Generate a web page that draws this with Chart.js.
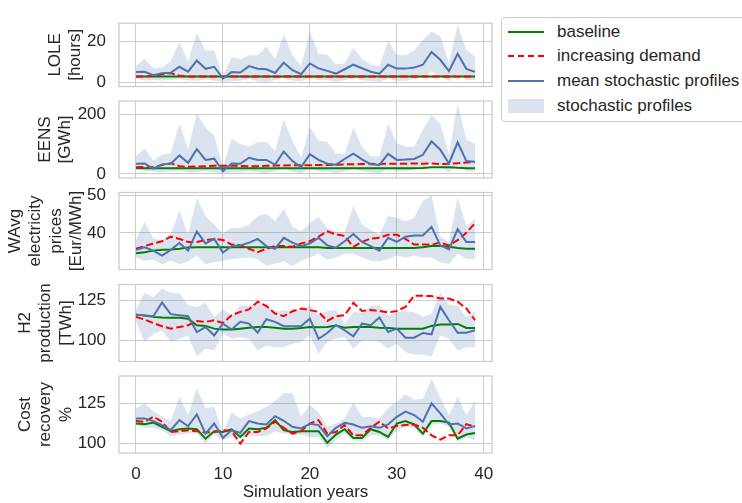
<!DOCTYPE html>
<html>
<head>
<meta charset="utf-8">
<script src="https://cdn.jsdelivr.net/npm/chart.js@4.4.1/dist/chart.umd.min.js"></script>
<style>
body { margin: 0; background: #fff; overflow: hidden; }
#wrap { position: relative; width: 742px; height: 503px; overflow: hidden; font-family: 'Liberation Sans', Arial, sans-serif; }
#wrap canvas { position: absolute; left: 0; top: 0; }
#legend { position: absolute; left: 501px; top: 17px; width: 320px; height: 103px; border: 1px solid #cccccc; border-radius: 4px; background: #fff; color: #262626; font-size: 17px; }
.item { position: absolute; left: 0; width: 300px; height: 24px; }
.item span.txt { position: absolute; left: 55px; top: 2px; white-space: nowrap; }
.handle { position: absolute; left: 6px; width: 36px; }
</style>
</head>
<body>
<div id="wrap">
  <canvas id="c1" width="742" height="503"></canvas>
  <canvas id="c2" width="742" height="503"></canvas>
  <canvas id="c3" width="742" height="503"></canvas>
  <canvas id="c4" width="742" height="503"></canvas>
  <canvas id="c5" width="742" height="503"></canvas>
  <div id="legend">
    <div class="item" style="top:2px"><div class="handle" style="top:11px;border-top:2px solid #008000"></div><span class="txt">baseline</span></div>
    <div class="item" style="top:26px"><div class="handle" style="top:11px;border-top:2px dashed #ff0000"></div><span class="txt">increasing demand</span></div>
    <div class="item" style="top:51px"><div class="handle" style="top:11px;border-top:2px solid #4c72b0"></div><span class="txt">mean stochastic profiles</span></div>
    <div class="item" style="top:76px"><div class="handle" style="top:5px;height:14px;background:rgba(76,114,176,0.2)"></div><span class="txt">stochastic profiles</span></div>
  </div>
</div>
<script>
'use strict';

let years = [0,1,2,3,4,5,6,7,8,9,10,11,12,13,14,15,16,17,18,19,20,21,22,23,24,25,26,27,28,29,30,31,32,33,34,35,36,37,38,39];
let xTicks = [0, 10, 20, 30, 40];

// LOLE [hours]
let loleBase = [3.0,3.0,3.0,3.0,3.0,3.0,3.0,3.0,3.0,3.0,3.0,3.0,3.0,3.0,3.0,3.0,3.0,3.0,3.0,3.0,3.0,3.0,3.0,3.0,3.0,3.0,3.0,3.0,3.0,3.0,3.0,3.0,3.0,3.0,3.0,3.0,3.0,3.0,3.0,3.0];
let loleDemand = [3.0,3.0,3.2,4.0,4.6,3.3,3.0,3.0,3.0,3.0,3.0,3.0,3.0,3.0,3.0,3.0,3.0,3.0,3.0,3.0,3.0,3.0,3.0,3.0,3.0,3.0,3.0,3.0,3.0,3.0,3.0,3.0,3.0,3.0,3.0,3.0,3.0,3.0,3.0,3.0];
let loleMean = [5.1,5.3,3.6,4.5,4.8,7.7,5.3,10.7,6.7,7.7,2.0,5.1,4.9,8.0,6.7,6.5,4.7,9.7,6.0,4.1,9.3,6.9,5.7,4.4,6.5,8.7,7.0,5.3,4.3,8.7,6.8,6.8,7.3,8.7,14.9,11.1,5.6,14.0,6.7,5.2];
let loleLo = [2.0,1.0,1.3,0.9,1.3,1.7,1.0,0.9,1.6,0.9,0.4,0.7,0.9,1.7,0.7,0.4,1.2,2.3,0.9,0.7,2.3,1.1,1.2,0.4,1.2,2.1,1.2,0.7,0.4,1.7,0.9,0.9,1.7,2.3,5.3,3.0,0.7,4.4,1.3,1.2];
let loleHi = [8.0,11.7,6.9,7.3,10.4,19.6,10.3,24.0,15.6,15.7,3.0,12.4,11.3,13.3,13.3,17.6,11.3,23.6,13.3,8.0,24.7,14.0,13.7,8.9,9.3,16.9,11.6,8.7,7.9,20.3,13.3,13.3,15.6,20.7,24.9,22.7,9.7,28.0,16.0,12.7];

// EENS [GWh]
let eensBase = [19,19,19,19,19,19,19,19,19,19,19,19,19,19,19,19,19,19,19,19,19,19,19,19,19,19,19,19,19,19,19,19,19,20,22,22,22,21,19,19];
let eensDemand = [22,23,22,30,36,26,24,25,26,27,27,27,27,26,26,27,28,28,29,29,29,30,30,31,32,32,33,34,33,34,34,34,35,34,35,33,34,36,38,40];
let eensMean = [34,35,18,32,34,62,37,83,47,51,9,35,34,54,47,47,31,75,43,23,66,47,34,31,50,68,49,32,30,67,47,48,50,64,109,81,35,106,43,41];
let eensLo = [18,9,9,5,9,11,5,5,11,5,2,5,5,11,5,2,9,18,7,2,16,9,9,2,9,18,9,5,2,16,9,9,16,20,38,23,5,30,9,9];
let eensHi = [60,85,45,64,69,168,83,202,155,128,25,117,100,92,106,108,77,182,111,55,157,111,108,68,66,155,91,59,59,168,103,91,91,148,197,168,66,234,115,100];

// WAvg electricity prices [Eur/MWh]
let priceBase = [34.6,34.9,35.3,35.5,35.6,35.8,36.1,36.2,36.2,36.2,36.2,36.2,36.2,36.2,36.2,36.2,36.2,36.2,36.2,36.2,36.2,36.2,36.0,36.0,36.0,36.0,36.0,36.0,36.0,36.0,36.0,36.0,36.0,36.2,36.5,36.5,36.3,36.0,35.8,35.8];
let priceDemand = [35.8,36.5,37.2,37.8,39.0,38.4,37.6,37.6,38.1,38.4,38.1,36.9,36.7,35.8,34.9,35.8,36.5,36.5,36.3,37.2,37.8,39.0,40.4,39.6,39.2,36.3,37.6,38.5,38.7,39.5,39.5,38.4,36.9,36.9,36.9,37.4,36.7,38.1,40.0,42.6];
let priceMean = [35.5,36.2,35.3,34.0,35.5,37.3,35.3,40.4,37.2,38.4,34.8,36.5,36.7,37.4,38.4,36.5,35.8,38.7,37.4,36.5,37.2,38.7,36.7,36.1,37.8,39.7,37.6,36.5,35.3,38.7,37.6,39.0,39.3,39.3,41.6,36.7,35.6,41.0,37.6,37.6];
let priceLo = [33.5,32.6,32.9,31.7,32.6,31.7,32.4,34.0,31.7,32.2,32.6,33.1,33.3,33.5,33.0,31.3,31.8,32.5,31.3,32.6,33.5,34.5,32.9,33.5,34.5,34.5,33.5,32.6,32.4,33.1,34.0,33.5,34.0,33.5,33.5,32.2,31.7,34.5,33.1,33.1];
let priceHi = [38.1,42.9,38.5,38.1,39.5,46.0,39.5,49.3,44.5,42.2,39.9,41.3,41.3,42.2,44.5,45.1,43.1,46.3,41.7,40.4,42.6,44.2,41.3,40.4,40.2,47.2,42.2,40.8,39.5,44.5,44.0,43.1,44.0,48.5,49.9,39.0,37.6,49.5,41.7,43.8];

// H2 production [TWh]
let h2Base = [116.0,115.4,114.6,114.2,114.0,114.0,113.5,109.4,109.0,107.3,106.7,106.7,107.3,107.9,108.3,108.3,107.9,107.3,107.3,107.7,108.3,108.1,108.3,109.2,107.9,108.3,108.3,108.3,107.9,107.7,107.3,107.3,107.3,107.3,109.0,109.8,109.8,110.2,107.7,107.7];
let h2Demand = [114.6,112.9,110.8,108.8,107.3,108.3,109.4,112.0,111.5,112.5,110.8,115.6,117.7,119.2,124.0,121.3,116.7,115.0,118.1,119.8,118.8,117.7,112.1,115.0,115.6,123.3,118.3,118.8,118.3,117.3,118.3,120.8,127.7,127.7,127.5,126.0,126.0,124.0,119.8,112.5];
let h2Mean = [116.0,115.4,115.0,123.5,116.3,115.6,115.0,105.2,108.3,103.1,110.4,106.7,111.5,110.4,104.8,113.1,111.5,108.8,108.8,109.0,113.5,101.0,104.6,109.4,106.3,102.5,110.4,109.4,114.2,105.2,107.3,101.7,101.7,104.6,103.8,120.8,112.5,104.8,104.8,106.3];
let h2Lo = [112.0,99.0,104.2,106.3,99.0,101.0,103.1,90.0,94.8,93.8,104.2,101.0,102.1,101.0,93.8,96.9,95.8,95.8,97.9,99.0,103.0,91.7,99.0,101.0,102.1,94.8,100.0,100.0,99.0,94.8,97.9,92.7,91.3,91.3,90.0,103.1,101.0,93.8,95.8,95.8];
let h2Hi = [119.0,129.6,126.7,132.3,129.6,129.2,121.9,120.8,123.3,114.6,119.4,115.6,121.5,121.3,122.9,122.9,117.7,118.8,118.3,118.8,122.0,115.6,118.3,118.8,110.4,117.7,117.1,121.3,121.9,115.6,117.7,118.3,117.7,114.6,116.7,129.6,121.9,121.3,114.6,118.3];

// Cost recovery %
let costBase = [112.2,111.8,112.8,110.1,107.4,108.6,109.1,108.6,102.7,107.4,106.9,108.6,103.8,109.1,108.6,109.5,114.3,108.0,106.9,107.4,107.4,107.4,100.2,105.3,108.6,103.2,103.2,108.6,106.9,103.8,112.2,113.7,111.6,105.9,113.7,113.7,112.8,102.7,105.3,106.3];
let costDemand = [113.7,113.3,116.4,113.3,106.9,107.4,108.0,107.4,106.5,106.9,108.0,107.4,99.6,106.9,106.9,109.1,113.3,109.5,105.9,107.4,112.2,114.3,105.9,106.9,111.2,104.8,104.8,109.5,113.3,109.1,110.7,111.2,111.6,109.5,104.8,102.1,104.8,104.8,111.8,110.1];
let costMean = [115.4,115.4,113.7,111.2,108.0,114.3,110.5,117.9,105.9,112.2,103.2,108.0,106.3,113.7,112.2,111.6,116.8,113.9,110.1,109.1,112.0,111.2,104.2,109.5,112.6,111.6,109.5,110.5,109.5,111.6,116.4,119.6,117.5,113.3,124.8,118.5,111.6,112.2,109.1,110.7];
let costLo = [111.2,109.5,109.5,108.0,104.4,105.3,105.9,105.9,99.6,105.3,101.7,103.8,102.7,104.8,104.4,104.4,107.4,105.9,104.8,105.3,103.8,103.8,96.8,101.7,105.9,101.7,101.0,104.8,104.8,101.7,108.0,110.1,109.1,103.8,111.2,112.2,110.1,100.6,103.8,101.7];
let costHi = [121.7,124.8,120.0,116.4,113.7,129.0,117.5,134.3,121.7,122.7,105.9,119.2,115.4,117.9,120.0,122.7,126.3,131.2,131.2,116.4,123.7,119.2,110.1,112.2,115.4,125.5,116.4,116.4,115.4,121.7,125.9,130.5,127.0,127.6,140.2,128.4,117.5,129.0,117.5,126.3];

Chart.defaults.font.family = "'Liberation Sans', Arial, sans-serif";
Chart.defaults.font.size = 17;
Chart.defaults.color = '#262626';

let gridColor = '#cccccc';

let framePlugin = {
    id: 'frame',
    beforeDatasetsDraw(chart) {
        let a = chart.chartArea;
        let ctx = chart.ctx;
        ctx.save();
        ctx.strokeStyle = gridColor;
        ctx.lineWidth = 1.25;
        ctx.strokeRect(a.left, a.top, a.right - a.left, a.bottom - a.top);
        ctx.restore();
    }
};

function pts(arr) {
    let out = [];
    for (let i = 0; i < years.length; i++) {
        out.push({ x: years[i], y: arr[i] });
    }
    return out;
}

function makePanel(p) {
    let isLast = p.last === true;
    let ctx = document.getElementById(p.id).getContext('2d');
    return new Chart(ctx, {
        type: 'line',
        data: {
            datasets: [
                { data: pts(p.mean), borderColor: '#4c72b0', borderWidth: 2, pointRadius: 0, fill: false, order: 1 },
                { data: pts(p.demand), borderColor: '#ff0000', borderWidth: 2, borderDash: [7.4, 3.2], pointRadius: 0, fill: false, order: 2 },
                { data: pts(p.base), borderColor: '#008000', borderWidth: 2, pointRadius: 0, fill: false, order: 3 },
                { data: pts(p.hi), borderWidth: 0, borderColor: 'rgba(0,0,0,0)', backgroundColor: 'rgba(76,114,176,0.2)', pointRadius: 0, fill: '+1', order: 4 },
                { data: pts(p.lo), borderWidth: 0, borderColor: 'rgba(0,0,0,0)', pointRadius: 0, fill: false, order: 5 }
            ]
        },
        options: {
            responsive: false,
            animation: false,
            devicePixelRatio: 1,
            layout: { padding: { left: 0, right: 250, top: p.top, bottom: isLast ? 0 : 503 - p.top - 77 } },
            plugins: { legend: { display: false }, tooltip: { enabled: false } },
            scales: {
                x: {
                    type: 'linear',
                    min: -1.95,
                    max: 40.95,
                    afterBuildTicks: s => { s.ticks = xTicks.map(v => ({ value: v })); },
                    afterFit: s => { s.height = isLast ? 50 : 0; },
                    grid: { color: gridColor, drawTicks: false },
                    border: { display: false },
                    ticks: { display: isLast, padding: 11, color: '#262626', maxRotation: 0 },
                    title: { display: isLast, text: 'Simulation years', padding: { top: 0, bottom: 0 }, color: '#262626' }
                },
                y: {
                    min: p.min,
                    max: p.max,
                    afterBuildTicks: s => { s.ticks = p.ticks.map(v => ({ value: v })); },
                    afterFit: s => { s.width = 119; },
                    grid: { color: gridColor, drawTicks: false },
                    border: { display: false },
                    ticks: { padding: 13, color: '#262626' },
                    title: { display: true, text: p.title, padding: { top: p.titlePad, bottom: 0 }, color: '#262626' }
                }
            }
        },
        plugins: [framePlugin]
    });
}

let panels = [
    { id: 'c1', title: ['LOLE', '[hours]'], titlePad: 45, top: 9.5, min: -1.9, max: 28.9, ticks: [0, 20],
      base: loleBase, demand: loleDemand, mean: loleMean, lo: loleLo, hi: loleHi },
    { id: 'c2', title: ['EENS', '[GWh]'], titlePad: 35, top: 101, min: -13.6, max: 244, ticks: [0, 200],
      base: eensBase, demand: eensDemand, mean: eensMean, lo: eensLo, hi: eensHi },
    { id: 'c3', title: ['WAvg', 'electricity', 'prices', '[Eur/MWh]'], titlePad: 5, top: 192.5, min: 30.3, max: 50.7, ticks: [40, 50],
      base: priceBase, demand: priceDemand, mean: priceMean, lo: priceLo, hi: priceHi },
    { id: 'c4', title: ['H2', 'production', '[TWh]'], titlePad: 15, top: 284.5, min: 86.9, max: 134.7, ticks: [100, 125],
      base: h2Base, demand: h2Demand, mean: h2Mean, lo: h2Lo, hi: h2Hi },
    { id: 'c5', title: ['Cost', 'recovery', '%'], titlePad: 15, top: 376, min: 93.75, max: 141.9, ticks: [100, 125], last: true,
      base: costBase, demand: costDemand, mean: costMean, lo: costLo, hi: costHi }
];

for (let i = 0; i < panels.length; i++) {
    makePanel(panels[i]);
}
</script>
</body>
</html>
